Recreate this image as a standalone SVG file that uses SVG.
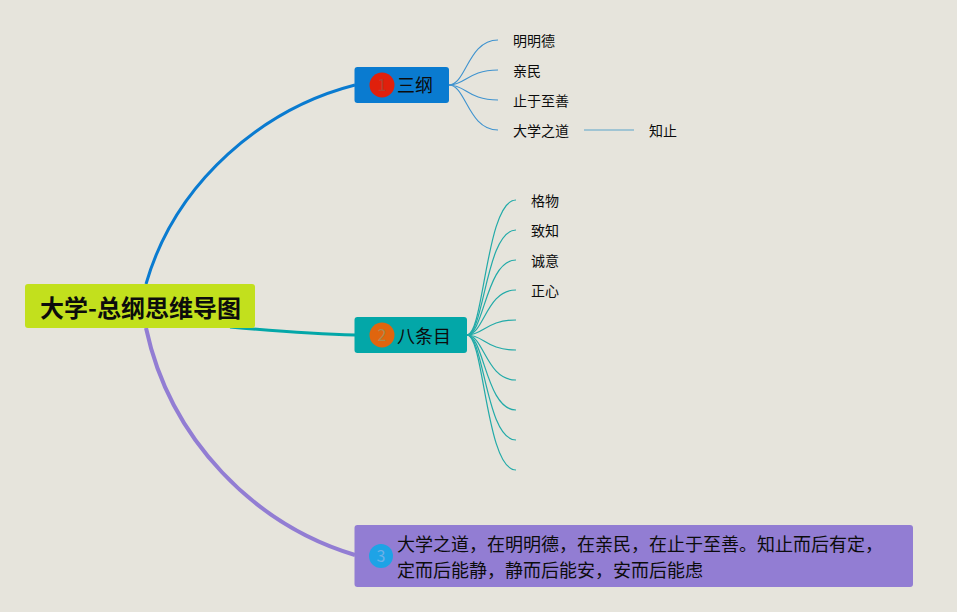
<svg xmlns="http://www.w3.org/2000/svg" width="957" height="612" viewBox="0 0 957 612">
<style>
text{font-family:"Noto Sans CJK SC","Noto Sans",sans-serif;fill:#0c0c0c}
.leaf{font-size:14px}
.main{font-size:18px}
.body{font-size:18px}
.num{font-size:16px;text-anchor:middle}
path{fill:none}
.b1{stroke:#3f93cf;stroke-width:1.1}
.b2{stroke:#22aaa8;stroke-width:1.2}
</style>
<rect width="957" height="612" fill="#e6e4dc"/>
<g id="connectors">
<path d="M146 284C176 180 265 108 355 85" stroke="#0a7bd0" stroke-width="3"/>
<path d="M230 327C275 331 312 334 355 335" stroke="#03a7a8" stroke-width="3"/>
<path d="M146 328C170 440 255 525 355 555" stroke="#927dd3" stroke-width="4"/>
<g class="b1">
<path d="M449 85C466 85 468 40 498 40"/>
<path d="M449 85C466 85 468 70 498 70"/>
<path d="M449 85C466 85 468 100 498 100"/>
<path d="M449 85C466 85 468 130 498 130"/>
</g>
<path d="M584 130H634" stroke="#5ba3c9" stroke-width="1.2"/>
<g class="b2">
<path d="M467 335C484 335 486 200 516 200"/>
<path d="M467 335C484 335 486 230 516 230"/>
<path d="M467 335C484 335 486 260 516 260"/>
<path d="M467 335C484 335 486 290 516 290"/>
<path d="M467 335C484 335 486 320 516 320"/>
<path d="M467 335C484 335 486 350 516 350"/>
<path d="M467 335C484 335 486 380 516 380"/>
<path d="M467 335C484 335 486 410 516 410"/>
<path d="M467 335C484 335 486 440 516 440"/>
<path d="M467 335C484 335 486 470 516 470"/>
</g>
</g>
<g id="root"><rect x="25" y="284" width="230" height="44" rx="3" fill="#c2e01d"/><text x="40" y="317" font-size="24" font-weight="700">大学-总纲思维导图</text></g>
<g id="n1"><rect x="354.500" y="67" width="94.500" height="36" rx="3" fill="#0a7bd0"/><circle cx="382" cy="85" r="12.500" fill="#e0200c"/><text class="num" x="382" y="91" style="fill:#b04030">1</text><text class="main" x="397" y="92">三纲</text></g>
<g id="n2"><rect x="354.500" y="317" width="112.500" height="36" rx="3" fill="#03a7a8"/><circle cx="382" cy="335" r="12.500" fill="#e0650e"/><text class="num" x="382" y="341" style="fill:#a88a50">2</text><text class="main" x="397" y="343">八条目</text></g>
<g id="n3"><rect x="354.500" y="525" width="558.500" height="62" rx="3" fill="#927dd3"/><circle cx="381" cy="556" r="12" fill="#1ea3e6"/><text class="num" x="381" y="562" style="fill:#6cb0e8">3</text><text class="body" x="397" y="551">大学之道，在明明德，在亲民，在止于至善。知止而后有定，</text><text class="body" x="397" y="577">定而后能静，静而后能安，安而后能虑</text></g>
<g id="l1"><text class="leaf" x="513" y="46">明明德</text></g>
<g id="l2"><text class="leaf" x="513" y="76">亲民</text></g>
<g id="l3"><text class="leaf" x="513" y="106">止于至善</text></g>
<g id="l4"><text class="leaf" x="513" y="136">大学之道</text></g>
<g id="l5"><text class="leaf" x="649" y="136">知止</text></g>
<g id="m1"><text class="leaf" x="531" y="206">格物</text></g>
<g id="m2"><text class="leaf" x="531" y="236">致知</text></g>
<g id="m3"><text class="leaf" x="531" y="266">诚意</text></g>
<g id="m4"><text class="leaf" x="531" y="296">正心</text></g>
</svg>
